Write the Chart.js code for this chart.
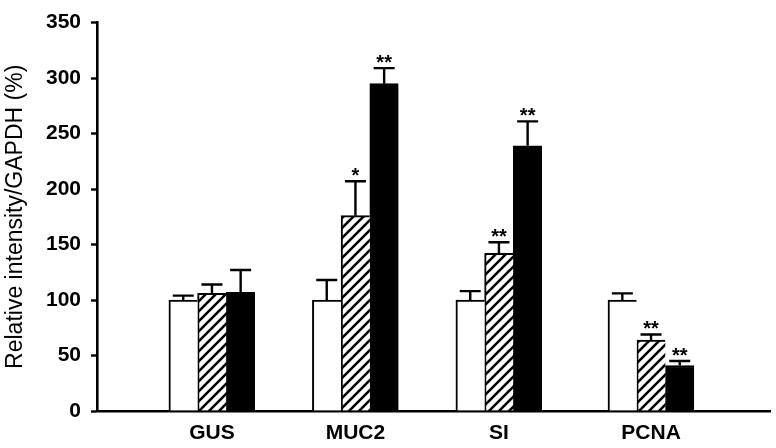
<!DOCTYPE html>
<html>
<head>
<meta charset="utf-8">
<script src="https://cdn.jsdelivr.net/npm/chart.js@4.4.1/dist/chart.umd.min.js"></script>
<style>
  html, body { margin: 0; padding: 0; background: #fff; }
</style>
</head>
<body>
<canvas id="barChart" width="776" height="448"></canvas>
<script>
const categories = ["GUS", "MUC2", "SI", "PCNA"];
const openValues = [100, 100, 100, 100];
const hatchedValues = [106, 176, 142, 64];
const blackValues = [107, 295, 239, 41];
const openErrors = [4, 18, 8, 6];
const hatchedErrors = [8, 31, 10, 5];
const blackErrors = [20, 14, 22, 4];
const openMarks = ["", "", "", ""];
const hatchedMarks = ["", "*", "**", "**"];
const blackMarks = ["", "**", "**", "**"];
const yTicks = [0, 50, 100, 150, 200, 250, 300, 350];

// where each gene group sits on the x axis (PCNA is set a bit further right)
const slots = [1, 2, 3, 4.06];

Chart.defaults.font.family = "'Liberation Sans', Arial, sans-serif";
Chart.defaults.color = "#000";

function hatchPattern() {
    const c = document.createElement("canvas");
    c.width = 10;
    c.height = 10;
    const g = c.getContext("2d");
    g.fillStyle = "#fff";
    g.fillRect(0, 0, 10, 10);
    g.strokeStyle = "#000";
    g.lineWidth = 2.6;
    g.beginPath();
    g.moveTo(-2, 12); g.lineTo(12, -2);
    g.moveTo(-2, 2); g.lineTo(2, -2);
    g.moveTo(8, 12); g.lineTo(12, 8);
    g.stroke();
    return g.createPattern(c, "repeat");
}

function points(values) {
    return values.map((v, i) => ({ x: slots[i], y: v }));
}

// error bars (upper half only) and significance stars
const errorBars = {
    id: "errorBars",
    afterDatasetsDraw(chart) {
        const ctx = chart.ctx;
        const yScale = chart.scales.y;
        ctx.save();
        ctx.strokeStyle = "#000";
        ctx.fillStyle = "#000";
        ctx.lineWidth = 2.4;
        ctx.font = "bold 20px 'Liberation Sans', Arial, sans-serif";
        ctx.textAlign = "center";
        ctx.textBaseline = "alphabetic";
        chart.data.datasets.forEach((ds, i) => {
            chart.getDatasetMeta(i).data.forEach((bar, j) => {
                const top = yScale.getPixelForValue(ds.data[j].y + ds.errors[j]);
                ctx.beginPath();
                ctx.moveTo(bar.x, bar.y);
                ctx.lineTo(bar.x, top);
                ctx.moveTo(bar.x - 10.5, top);
                ctx.lineTo(bar.x + 10.5, top);
                ctx.stroke();
                if (ds.marks[j]) {
                    ctx.fillText(ds.marks[j], bar.x, top + 1);
                }
            });
        });
        ctx.restore();
    }
};

const barStyle = {
    borderColor: "#000",
    borderWidth: { top: 2, left: 2, right: 0, bottom: 0 },
    borderSkipped: false,
    barThickness: 28.7
};

new Chart(document.getElementById("barChart"), {
    type: "bar",
    data: {
        datasets: [
            Object.assign({ data: points(openValues), errors: openErrors, marks: openMarks, backgroundColor: "#fff" }, barStyle),
            Object.assign({ data: points(hatchedValues), errors: hatchedErrors, marks: hatchedMarks, backgroundColor: hatchPattern() }, barStyle),
            Object.assign({ data: points(blackValues), errors: blackErrors, marks: blackMarks, backgroundColor: "#000" }, barStyle)
        ]
    },
    options: {
        responsive: false,
        animation: false,
        layout: { padding: { top: 15, right: 6, left: 0, bottom: 0 } },
        plugins: {
            legend: { display: false },
            tooltip: { enabled: false }
        },
        scales: {
            x: {
                type: "linear",
                offset: false,
                min: 0.199,
                max: 4.889,
                afterBuildTicks: scale => {
                    scale.ticks = slots.map(v => ({ value: v }));
                },
                afterFit: scale => { scale.height = 37; },
                ticks: {
                    autoSkip: false,
                    maxRotation: 0,
                    padding: 10,
                    font: { size: 21, weight: "bold" },
                    callback: (value, index) => categories[index]
                },
                grid: { display: false, drawTicks: false },
                border: { display: true, color: "#000", width: 2.6 }
            },
            y: {
                min: 0,
                max: 350,
                afterBuildTicks: scale => {
                    scale.ticks = yTicks.map(v => ({ value: v }));
                },
                afterFit: scale => { scale.width = 97; },
                ticks: {
                    padding: 10,
                    font: { size: 21, weight: "bold" }
                },
                grid: {
                    drawOnChartArea: false,
                    tickLength: 6,
                    tickWidth: 2.4,
                    tickColor: "#000"
                },
                border: { color: "#000", width: 2.6 },
                title: {
                    display: true,
                    text: "Relative intensity/GAPDH (%)",
                    font: { size: 23 },
                    padding: { top: 2, bottom: 0 }
                }
            }
        }
    },
    plugins: [errorBars]
});
</script>
</body>
</html>
